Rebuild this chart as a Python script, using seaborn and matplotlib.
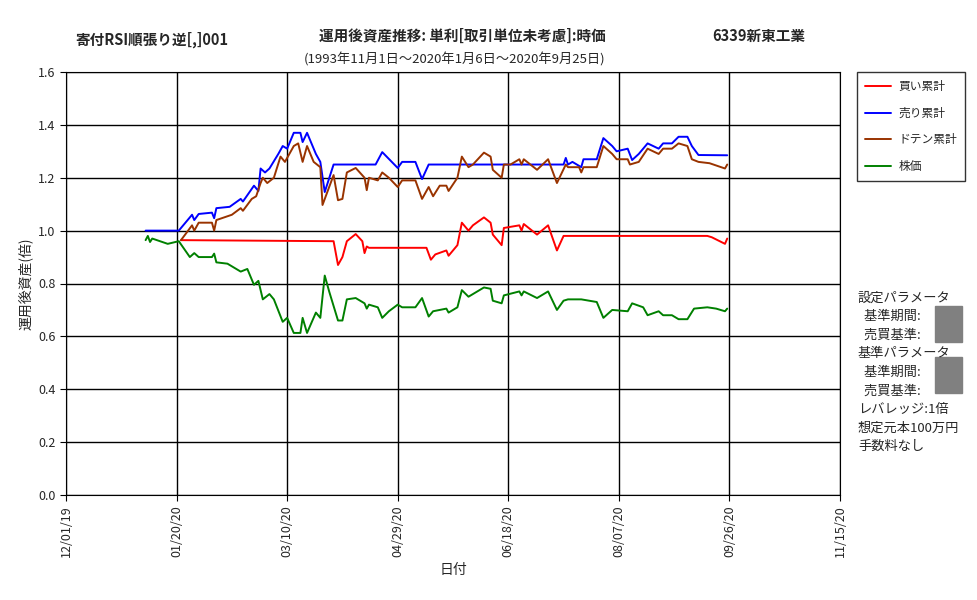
import pandas as pd
import seaborn as sns
import matplotlib.dates as mdates
from matplotlib import pyplot as plt
from matplotlib.patches import Rectangle

START = pd.Timestamp('2019-12-01')

# days since 2019-12-01
BUY_DAYS = [52, 121, 123, 125, 127, 131, 134, 135, 136, 137, 163, 165, 167, 172, 173, 177, 179, 182, 184,
            189, 192, 193, 197, 198, 205, 206, 207, 213, 218, 222, 225, 290, 292, 298, 299]
BUY_VALS = [0.964, 0.96, 0.87, 0.90, 0.96, 0.987, 0.96, 0.915, 0.94, 0.935, 0.935, 0.89, 0.91, 0.925, 0.905,
            0.945, 1.03, 1.0, 1.02, 1.05, 1.03, 0.985, 0.945, 1.01, 1.02, 1.0, 1.025, 0.985, 1.02, 0.925,
            0.98, 0.98, 0.975, 0.95, 0.97]

SELL_DAYS = [36, 51, 52, 57, 58, 60, 66, 67, 68, 74, 79, 80, 85, 87, 88, 90, 92, 96, 98, 100, 103, 106, 107,
             109, 113, 115, 117, 121, 140, 143, 150, 152, 158, 161, 164, 225, 226, 227, 229, 233, 234, 240,
             243, 247, 249, 254, 256, 259, 263, 268, 270, 274, 277, 281, 283, 286, 299]
SELL_VALS = [1.0, 1.0, 1.01, 1.06, 1.04, 1.063, 1.068, 1.047, 1.085, 1.09, 1.12, 1.11, 1.17, 1.15, 1.235,
             1.22, 1.235, 1.29, 1.32, 1.31, 1.37, 1.37, 1.335, 1.37, 1.29, 1.26, 1.146, 1.25, 1.25, 1.297,
             1.237, 1.26, 1.26, 1.195, 1.25, 1.25, 1.275, 1.25, 1.26, 1.24, 1.27, 1.27, 1.35, 1.32, 1.30,
             1.31, 1.267, 1.29, 1.33, 1.31, 1.33, 1.33, 1.355, 1.355, 1.32, 1.286, 1.285]

DOTEN_DAYS = [52, 57, 58, 60, 66, 67, 68, 75, 79, 80, 84, 86, 88, 89, 91, 94, 97, 99, 103, 105, 107, 109,
              112, 115, 116, 121, 123, 125, 127, 131, 135, 136, 137, 141, 143, 146, 150, 152, 158, 161, 164,
              166, 169, 172, 173, 177, 179, 182, 184, 189, 192, 193, 197, 198, 201, 205, 206, 207, 213, 218,
              222, 226, 227, 232, 233, 234, 240, 243, 247, 249, 254, 255, 259, 263, 268, 270, 274, 277, 281,
              283, 286, 291, 298, 299]
DOTEN_VALS = [0.964, 1.02, 1.0, 1.03, 1.03, 1.0, 1.04, 1.06, 1.085, 1.075, 1.12, 1.13, 1.18, 1.2, 1.18, 1.2,
              1.28, 1.26, 1.32, 1.33, 1.26, 1.32, 1.26, 1.24, 1.097, 1.21, 1.115, 1.12, 1.22, 1.237, 1.2,
              1.153, 1.2, 1.19, 1.22, 1.2, 1.165, 1.19, 1.19, 1.12, 1.165, 1.13, 1.17, 1.17, 1.15, 1.2, 1.28,
              1.24, 1.25, 1.295, 1.28, 1.23, 1.2, 1.25, 1.25, 1.27, 1.25, 1.27, 1.23, 1.27, 1.18, 1.25, 1.24,
              1.24, 1.22, 1.24, 1.24, 1.32, 1.29, 1.27, 1.27, 1.25, 1.26, 1.31, 1.29, 1.31, 1.31, 1.33, 1.32,
              1.27, 1.26, 1.255, 1.235, 1.25]

PRICE_DAYS = [36, 37, 38, 39, 46, 51, 56, 58, 60, 66, 67, 68, 73, 79, 82, 85, 87, 89, 92, 94, 98, 100, 103,
              106, 107, 109, 113, 115, 117, 119, 123, 125, 127, 131, 135, 136, 137, 141, 143, 146, 150, 152,
              158, 161, 164, 166, 172, 173, 177, 179, 182, 184, 189, 192, 193, 197, 198, 205, 206, 207, 213,
              218, 222, 225, 227, 233, 240, 243, 247, 254, 256, 261, 263, 268, 270, 274, 277, 281, 284, 290,
              294, 298, 299]
PRICE_VALS = [0.964, 0.98, 0.957, 0.97, 0.95, 0.96, 0.9, 0.915, 0.9, 0.9, 0.913, 0.88, 0.875, 0.845, 0.855,
              0.795, 0.81, 0.74, 0.76, 0.74, 0.655, 0.67, 0.613, 0.613, 0.67, 0.613, 0.69, 0.67, 0.83, 0.77,
              0.66, 0.66, 0.74, 0.745, 0.725, 0.705, 0.72, 0.71, 0.67, 0.695, 0.72, 0.71, 0.71, 0.745, 0.675,
              0.695, 0.705, 0.69, 0.71, 0.775, 0.75, 0.76, 0.785, 0.78, 0.735, 0.725, 0.755, 0.77, 0.755,
              0.77, 0.745, 0.77, 0.7, 0.735, 0.74, 0.74, 0.73, 0.67, 0.7, 0.695, 0.725, 0.71, 0.68, 0.695,
              0.68, 0.68, 0.665, 0.665, 0.705, 0.71, 0.705, 0.695, 0.705]

SERIES = [('買い累計', BUY_DAYS, BUY_VALS, 'red'),
          ('売り累計', SELL_DAYS, SELL_VALS, 'blue'),
          ('ドテン累計', DOTEN_DAYS, DOTEN_VALS, '#993300'),
          ('株価', PRICE_DAYS, PRICE_VALS, 'green')]

Y_TICKS = [0.0, 0.2, 0.4, 0.6, 0.8, 1.0, 1.2, 1.4, 1.6]
X_TICK_DAYS = [0, 50, 100, 150, 200, 250, 300, 350]

PARAM_TEXT = ['設定パラメータ', '  基準期間:', '  売買基準:', '基準パラメータ', '  基準期間:', '  売買基準:',
              'レバレッジ:1倍', '想定元本100万円', '手数料なし']


def main():
    sns.set_style('white')
    plt.rcParams['font.family'] = ['Noto Sans CJK JP', 'DejaVu Sans']

    fig = plt.figure(figsize=(9.77, 6.0), dpi=100)
    ax = fig.add_axes([66 / 977, 105 / 600, 774 / 977, 423 / 600])

    for name, days, vals, color in SERIES:
        df = pd.DataFrame({'date': START + pd.to_timedelta(days, unit='D'), 'value': vals})
        sns.lineplot(data=df, x='date', y='value', color=color, linewidth=1.4, label=name, ax=ax)

    ax.set_xlim(START, START + pd.Timedelta(days=350))
    ax.set_ylim(0, 1.6)
    ax.set_yticks(Y_TICKS)
    ax.set_yticklabels([f'{v:.1f}' for v in Y_TICKS], fontsize=9)
    ax.set_xticks([START + pd.Timedelta(days=d) for d in X_TICK_DAYS])
    ax.xaxis.set_major_formatter(mdates.DateFormatter('%m/%d/%y'))
    plt.setp(ax.get_xticklabels(), rotation=90, fontsize=9)
    ax.tick_params(axis='both', direction='out', length=4, color='black', bottom=True, left=True)
    ax.grid(True, color='black', linewidth=1)
    for s in ax.spines.values():
        s.set_color('black')
    ax.set_xlabel('日付', fontsize=10)
    ax.set_ylabel('運用後資産(倍)', fontsize=10)

    leg = ax.legend(loc='upper left', bbox_to_anchor=(1.022, 1.0), frameon=True, fancybox=False,
                    edgecolor='black', fontsize=8.5, handlelength=2.2, handletextpad=0.6,
                    labelspacing=1.15, borderpad=0.7, borderaxespad=0)
    leg.get_frame().set_linewidth(1)

    fig.text(75 / 977, 1 - 40 / 600, '寄付RSI順張り逆[,]001', fontsize=10.5, weight='bold', va='center')
    fig.text(462 / 977, 1 - 36 / 600, '運用後資産推移: 単利[取引単位未考慮]:時価', fontsize=10.5, weight='bold',
             ha='center', va='center')
    fig.text(712 / 977, 1 - 36 / 600, '6339新東工業', fontsize=10.5, weight='bold', va='center')
    fig.text(455 / 977, 1 - 60 / 600, '(1993年11月1日～2020年1月6日～2020年9月25日)', fontsize=9.5,
             ha='center', va='center')

    for i, line in enumerate(PARAM_TEXT):
        fig.text(858 / 977, 1 - (298 + i * 18.6) / 600, line, fontsize=9.5, va='center')
    for top in (306, 357):
        fig.add_artist(Rectangle((935 / 977, 1 - (top + 36) / 600), 27 / 977, 36 / 600,
                                 transform=fig.transFigure, color='#808080'))

    fig.savefig('out.png', dpi=100, facecolor='white')


if __name__ == '__main__':
    main()
